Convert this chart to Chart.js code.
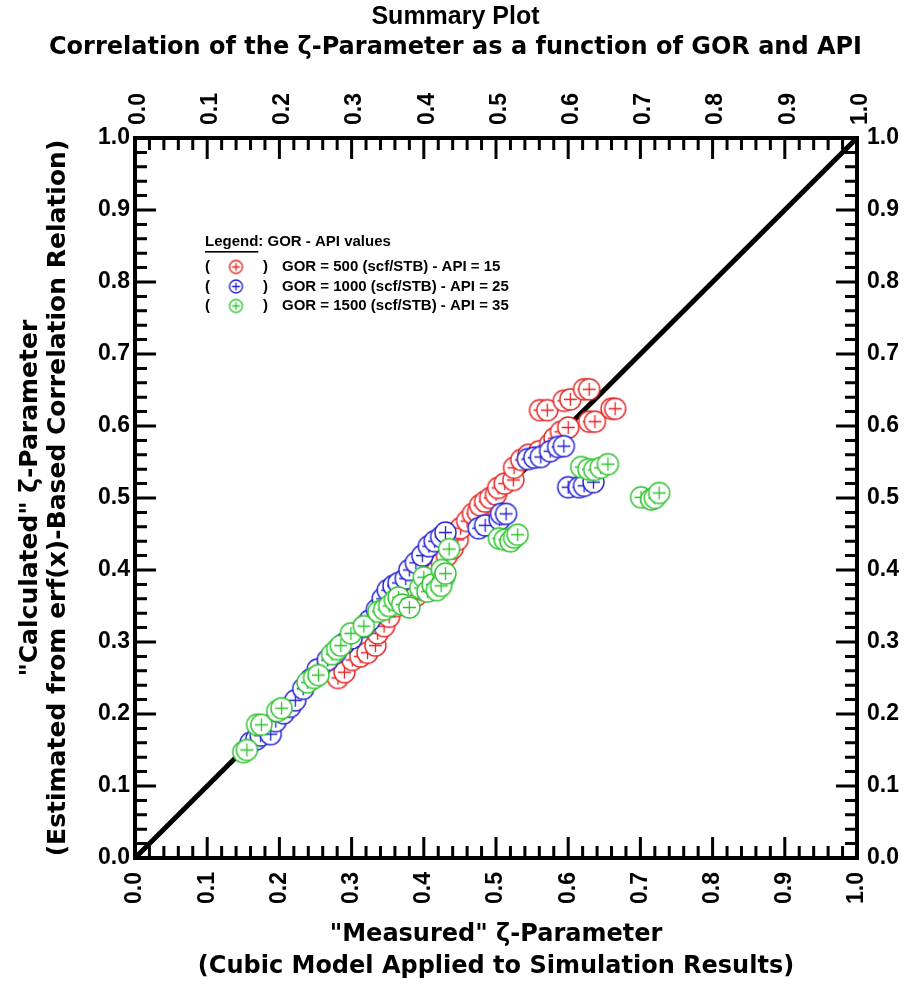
<!DOCTYPE html>
<html>
<head>
<meta charset="utf-8">
<title>Summary Plot</title>
<script src="https://cdn.jsdelivr.net/npm/chart.js@4.4.0/dist/chart.umd.min.js"></script>
<style>
    html, body { margin: 0; padding: 0; background: #fff; }
    #wrap { width: 911px; height: 987px; position: relative; }
</style>
</head>
<body>
<div id="wrap"><canvas id="zetaChart"></canvas></div>
<script>
// Measured (x) vs calculated (y) zeta values
const gor500Measured = [0.281, 0.290, 0.301, 0.312, 0.322, 0.333, 0.336, 0.345, 0.352, 0.362, 0.372, 0.382, 0.390, 0.400, 0.410, 0.418, 0.425, 0.432, 0.440, 0.447, 0.451, 0.460, 0.468, 0.475, 0.478, 0.485, 0.492, 0.500, 0.503, 0.512, 0.524, 0.525, 0.535, 0.545, 0.560, 0.575, 0.581, 0.590, 0.600, 0.629, 0.637, 0.660, 0.665, 0.561, 0.571, 0.594, 0.603, 0.622, 0.629];
const gor500Calculated = [0.250, 0.258, 0.275, 0.280, 0.285, 0.295, 0.312, 0.322, 0.335, 0.350, 0.355, 0.358, 0.365, 0.372, 0.385, 0.398, 0.410, 0.420, 0.430, 0.442, 0.458, 0.468, 0.478, 0.480, 0.490, 0.495, 0.500, 0.505, 0.514, 0.520, 0.525, 0.542, 0.553, 0.560, 0.565, 0.575, 0.583, 0.592, 0.598, 0.606, 0.606, 0.624, 0.624, 0.622, 0.622, 0.635, 0.637, 0.651, 0.651];

const gor1000Measured = [0.160, 0.168, 0.174, 0.188, 0.195, 0.206, 0.215, 0.222, 0.233, 0.243, 0.253, 0.267, 0.278, 0.290, 0.300, 0.317, 0.325, 0.335, 0.343, 0.350, 0.358, 0.365, 0.375, 0.380, 0.389, 0.398, 0.407, 0.415, 0.424, 0.430, 0.476, 0.485, 0.505, 0.507, 0.514, 0.544, 0.553, 0.562, 0.575, 0.586, 0.594, 0.600, 0.615, 0.622, 0.635];
const gor1000Calculated = [0.160, 0.165, 0.170, 0.172, 0.190, 0.201, 0.210, 0.219, 0.235, 0.248, 0.262, 0.275, 0.285, 0.298, 0.305, 0.321, 0.330, 0.345, 0.360, 0.372, 0.378, 0.382, 0.388, 0.400, 0.410, 0.420, 0.433, 0.440, 0.446, 0.452, 0.458, 0.462, 0.470, 0.478, 0.478, 0.554, 0.556, 0.557, 0.565, 0.571, 0.572, 0.515, 0.515, 0.517, 0.522];

const gor1500Measured = [0.150, 0.155, 0.169, 0.175, 0.197, 0.203, 0.239, 0.248, 0.254, 0.273, 0.280, 0.285, 0.299, 0.317, 0.337, 0.345, 0.352, 0.360, 0.365, 0.370, 0.380, 0.395, 0.400, 0.405, 0.412, 0.418, 0.425, 0.428, 0.424, 0.430, 0.435, 0.504, 0.512, 0.520, 0.525, 0.530, 0.618, 0.628, 0.636, 0.645, 0.655, 0.701, 0.715, 0.720, 0.726];
const gor1500Calculated = [0.147, 0.150, 0.185, 0.185, 0.204, 0.208, 0.244, 0.250, 0.254, 0.283, 0.290, 0.295, 0.312, 0.322, 0.342, 0.345, 0.350, 0.358, 0.362, 0.352, 0.348, 0.375, 0.390, 0.370, 0.380, 0.372, 0.400, 0.390, 0.378, 0.395, 0.429, 0.444, 0.442, 0.440, 0.445, 0.449, 0.543, 0.540, 0.539, 0.542, 0.547, 0.501, 0.498, 0.500, 0.507];

// 1:1 reference line
const diagonalX = [0, 1];
const diagonalY = [0, 1];

const seriesLabels = [
    'GOR = 500 (scf/STB) - API = 15',
    'GOR = 1000 (scf/STB) - API = 25',
    'GOR = 1500 (scf/STB) - API = 35'
];
const seriesColors = ['rgb(232, 36, 36)', 'rgb(36, 36, 214)', 'rgb(46, 196, 46)'];

Chart.defaults.font.family = '"Liberation Sans", Arial, sans-serif';
Chart.defaults.color = '#000';

const wideFamily = '"DejaVu Sans", Verdana, sans-serif';

// Open circle with a plus inside, white filled
function makeMarker(color, r) {
    const size = Math.ceil(r * 2 + 4);
    const c = document.createElement('canvas');
    c.width = size;
    c.height = size;
    const g = c.getContext('2d');
    const m = size / 2;
    g.beginPath();
    g.arc(m, m, r, 0, Math.PI * 2);
    g.fillStyle = '#fff';
    g.fill();
    g.lineWidth = 1.4;
    g.strokeStyle = color;
    g.stroke();
    const arm = r * 0.62;
    g.lineWidth = 1.3;
    g.beginPath();
    g.moveTo(m - arm, m); g.lineTo(m + arm, m);
    g.moveTo(m, m - arm); g.lineTo(m, m + arm);
    g.stroke();
    return c;
}

function toPoints(xs, ys) {
    return xs.map((x, i) => ({ x: x, y: ys[i] }));
}

const measuredSets = [gor500Measured, gor1000Measured, gor1500Measured];
const calculatedSets = [gor500Calculated, gor1000Calculated, gor1500Calculated];

const datasets = seriesLabels.map((label, i) => ({
    type: 'scatter',
    label: label,
    data: toPoints(measuredSets[i], calculatedSets[i]),
    pointStyle: makeMarker(seriesColors[i], 10.5),
    pointRadius: 11,
    pointHoverRadius: 11,
    // red at the bottom, green on top
    order: 3 - i
}));

datasets.push({
    type: 'line',
    label: 'diagonal',
    data: toPoints(diagonalX, diagonalY),
    borderColor: '#000',
    borderWidth: 5,
    pointRadius: 0,
    fill: false,
    order: 10
});

// Frame and inward tick marks on all four sides
const frameTicks = {
    id: 'frameTicks',
    afterDatasetsDraw(chart) {
        const { ctx, chartArea: a, scales } = chart;
        ctx.save();
        ctx.strokeStyle = '#000';
        ctx.lineWidth = 3;
        for (let i = 0; i <= 50; i++) {
            const v = i / 50;
            const len = i % 5 === 0 ? 21 : 12;
            const px = scales.x.getPixelForValue(v);
            const py = scales.y.getPixelForValue(v);
            ctx.beginPath();
            ctx.moveTo(px, a.bottom); ctx.lineTo(px, a.bottom - len);
            ctx.moveTo(px, a.top); ctx.lineTo(px, a.top + len);
            ctx.moveTo(a.left, py); ctx.lineTo(a.left + len, py);
            ctx.moveTo(a.right, py); ctx.lineTo(a.right - len, py);
            ctx.stroke();
        }
        ctx.lineWidth = 4;
        ctx.strokeRect(a.left, a.top, a.width, a.height);
        ctx.restore();
    }
};

// Text legend in the upper left of the plot
const textLegend = {
    id: 'textLegend',
    afterDraw(chart) {
        const { ctx, chartArea: a } = chart;
        const x0 = a.left + 70;
        const y0 = a.top + 104;
        ctx.save();
        ctx.fillStyle = '#000';
        ctx.font = 'bold 15px "Liberation Sans", Arial, sans-serif';
        ctx.textBaseline = 'middle';
        ctx.textAlign = 'left';
        const head = 'Legend';
        ctx.fillText(head, x0, y0);
        const w = ctx.measureText(head).width;
        ctx.fillRect(x0, y0 + 9, w, 1.6);
        ctx.fillText(': GOR - API values', x0 + w, y0);
        seriesLabels.forEach((label, i) => {
            const y = y0 + 25 + i * 19.5;
            ctx.fillText('(', x0, y);
            ctx.fillText(')', x0 + 58, y);
            ctx.fillText(label, x0 + 77, y);
            const mk = makeMarker(seriesColors[i], 6.5);
            ctx.drawImage(mk, x0 + 31 - mk.width / 2, y - mk.height / 2);
        });
        ctx.restore();
    }
};

const tickFont = { size: 23, weight: 'bold' };
const fmt = v => Number(v).toFixed(1);

new Chart(document.getElementById('zetaChart'), {
    data: { datasets: datasets },
    options: {
        responsive: true,
        maintainAspectRatio: false,
        animation: false,
        layout: { padding: 0 },
        plugins: {
            legend: { display: false },
            tooltip: { enabled: false },
            title: {
                display: true,
                text: 'Summary Plot',
                font: { size: 25, weight: 'bold', lineHeight: 1.2 },
                padding: { top: 2, bottom: 0 },
                color: '#000'
            },
            subtitle: {
                display: true,
                text: 'Correlation of the \u03B6-Parameter as a function of GOR and API',
                font: { family: wideFamily, size: 24, weight: 'bold', lineHeight: 1.25 },
                padding: { top: 1, bottom: 3 },
                color: '#000'
            }
        },
        scales: {
            x: {
                type: 'linear',
                position: 'bottom',
                min: 0,
                max: 1,
                grid: { display: false, drawTicks: false },
                border: { display: false },
                ticks: { stepSize: 0.1, font: tickFont, padding: 14, minRotation: 90, maxRotation: 90, callback: fmt },
                title: {
                    display: true,
                    text: ['"Measured" \u03B6-Parameter', '(Cubic Model Applied to Simulation Results)'],
                    font: { family: wideFamily, size: 24, weight: 'bold', lineHeight: 1.3 },
                    padding: { top: 0, bottom: 5 }
                },
                afterFit: s => { s.height = 129; }
            },
            x2: {
                type: 'linear',
                position: 'top',
                min: 0,
                max: 1,
                grid: { display: false, drawTicks: false },
                border: { display: false },
                ticks: { stepSize: 0.1, font: tickFont, padding: 13, labelOffset: 31, minRotation: 90, maxRotation: 90, callback: fmt },
                afterFit: s => { s.height = 72; }
            },
            y: {
                type: 'linear',
                position: 'left',
                min: 0,
                max: 1,
                grid: { display: false, drawTicks: false },
                border: { display: false },
                ticks: { stepSize: 0.1, font: tickFont, padding: 5, callback: fmt },
                title: {
                    display: true,
                    text: ['"Calculated" \u03B6-Parameter', '(Estimated from erf(x)-Based Correlation Relation)'],
                    font: { family: wideFamily, size: 25, weight: 'bold', lineHeight: 1.12 },
                    padding: { top: 16, bottom: 0 }
                },
                afterFit: s => { s.width = 135; }
            },
            y2: {
                type: 'linear',
                position: 'right',
                min: 0,
                max: 1,
                grid: { display: false, drawTicks: false },
                border: { display: false },
                ticks: { stepSize: 0.1, font: tickFont, padding: 10, callback: fmt },
                afterFit: s => { s.width = 54; }
            }
        }
    },
    plugins: [frameTicks, textLegend]
});
</script>
</body>
</html>
